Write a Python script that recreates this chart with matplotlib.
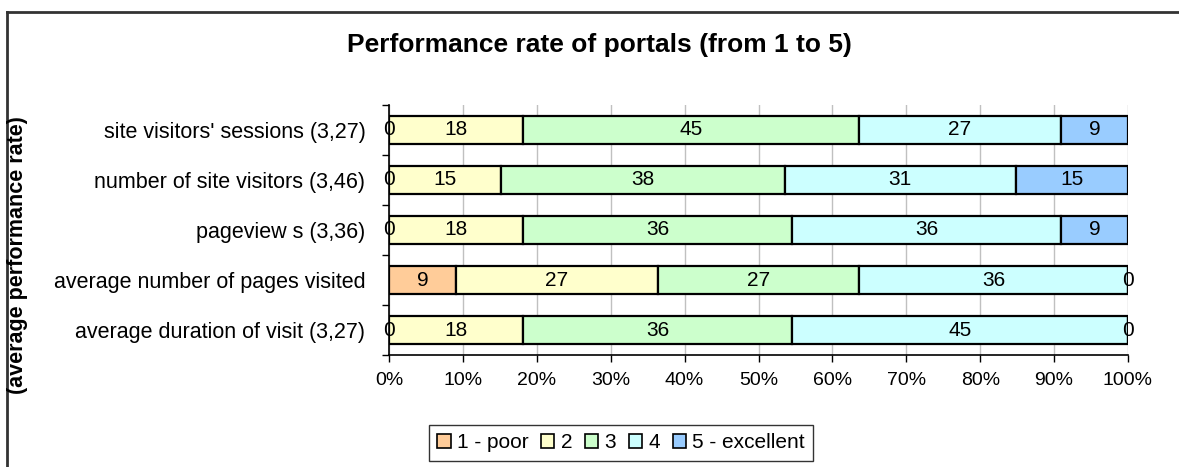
import matplotlib
matplotlib.use("Agg")
import matplotlib.pyplot as plt
from matplotlib.patches import Patch
from matplotlib.lines import Line2D
import numpy as np

plt.rcParams['font.family'] = ['Liberation Sans', 'DejaVu Sans']

# Categories (top to bottom) and share of ratings per score, in %
categories = [
    "site visitors' sessions (3,27)",
    "number of site visitors (3,46)",
    "pageview s (3,36)",
    "average number of pages visited",
    "average duration of visit (3,27)",
]
score_labels = ["1 - poor", "2", "3", "4", "5 - excellent"]
score_1 = [0, 0, 0, 9, 0]
score_2 = [18, 15, 18, 27, 18]
score_3 = [45, 38, 36, 27, 36]
score_4 = [27, 31, 36, 36, 45]
score_5 = [9, 15, 9, 0, 0]
colors = ["#FFCC99", "#FFFFCC", "#CCFFCC", "#CCFFFF", "#99CCFF"]
x_ticks = [0, 10, 20, 30, 40, 50, 60, 70, 80, 90, 100]

series = np.array([score_1, score_2, score_3, score_4, score_5], dtype=float)
shares = series / series.sum(axis=0) * 100  # 100% stacked

W, H = 1179, 467
fig = plt.figure(figsize=(W / 100, H / 100), dpi=100)
ax = fig.add_axes([389 / W, 1 - 355 / H, (1128 - 389) / W, 250 / H])

y = np.arange(len(categories))
left = np.zeros(len(categories))
for i in range(len(score_labels)):
    ax.barh(y, shares[i], left=left, height=0.56, color=colors[i],
            edgecolor="black", linewidth=1.6, zorder=3)
    for j in range(len(categories)):
        xc = left[j] + shares[i][j] / 2
        ax.text(xc, y[j], f"{int(series[i][j])}", ha="center", va="center",
                fontsize=15, zorder=4)
    left += shares[i]

ax.set_xlim(0, 100)
ax.set_ylim(len(categories) - 0.5, -0.5)
ax.set_xticks(x_ticks)
ax.set_xticklabels([f"{t}%" for t in x_ticks], fontsize=14)
ax.set_yticks(y)
ax.set_yticklabels(categories, fontsize=15.5)
ax.set_yticks(np.arange(-0.5, len(categories)), minor=True)
ax.tick_params(axis="y", which="major", length=0, pad=17)
ax.tick_params(axis="y", which="minor", length=5, direction="out", width=1)
ax.tick_params(axis="x", length=5, direction="out", width=1, pad=7)
ax.grid(axis="x", color="#c0c0c0", linewidth=1, zorder=0)
for s in ["top", "right"]:
    ax.spines[s].set_visible(False)
ax.spines["left"].set_linewidth(1.2)
ax.spines["bottom"].set_linewidth(1.2)

fig.text(599 / W, 1 - 45 / H, "Performance rate of portals (from 1 to 5)",
         ha="center", va="center", fontsize=19, fontweight="bold")
fig.text(18 / W, 1 - 255 / H, "(average performance rate)", rotation=90,
         ha="center", va="center", fontsize=15.5, fontweight="bold")

handles = [Patch(facecolor=c, edgecolor="black", linewidth=1.2) for c in colors]
leg = fig.legend(handles, score_labels, loc="center", bbox_to_anchor=(621 / W, 1 - 443 / H),
                 ncol=5, fontsize=15, frameon=True, fancybox=False, handlelength=0.65,
                 handleheight=0.65, handletextpad=0.3, columnspacing=0.6,
                 borderpad=0.4, edgecolor="black")
leg.get_frame().set_linewidth(1.0)

# outer frame
fig.add_artist(Line2D([7 / W, 1], [1 - 12 / H, 1 - 12 / H], color="#333333", linewidth=2))
fig.add_artist(Line2D([7 / W, 7 / W], [0, 1 - 12 / H], color="#333333", linewidth=2))

fig.savefig("out.png", dpi=100)
